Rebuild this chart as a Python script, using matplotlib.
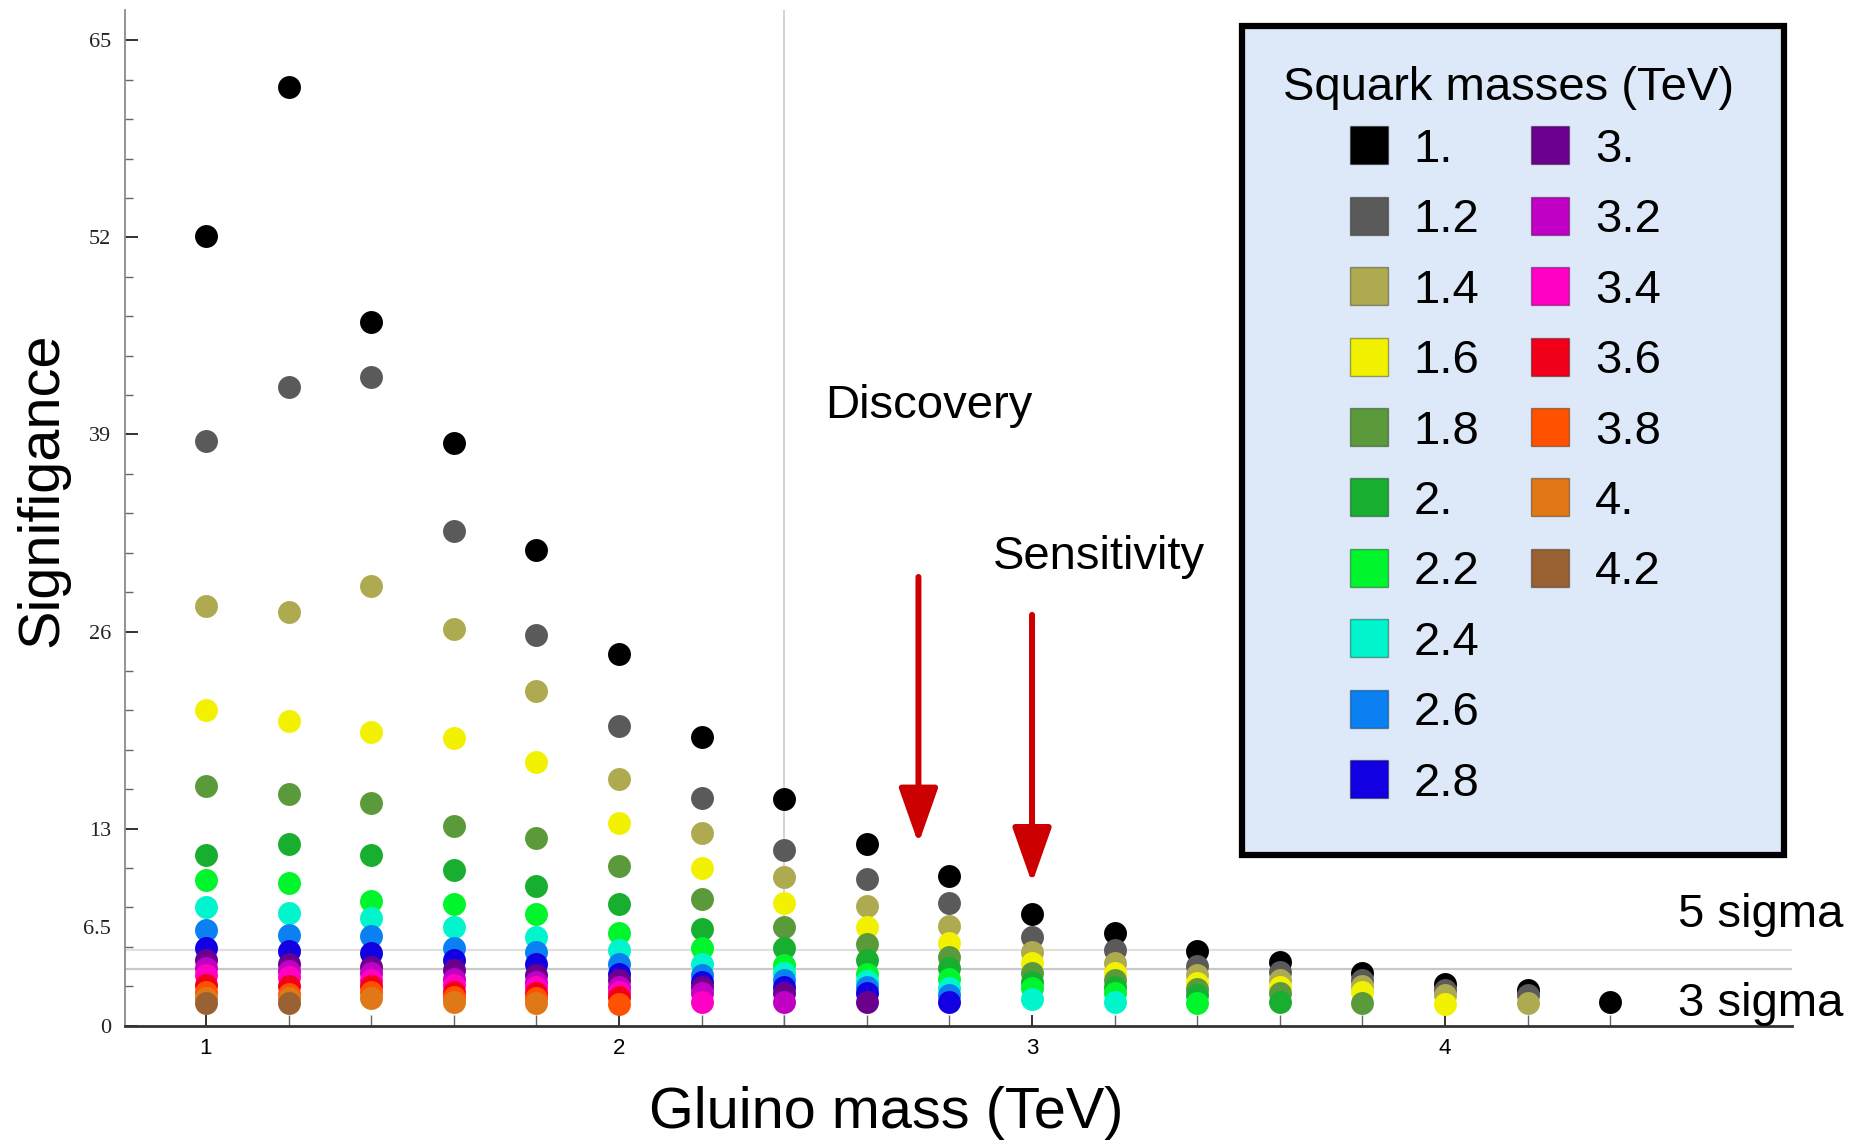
import matplotlib

matplotlib.use("Agg")
import matplotlib.pyplot as plt
import numpy as np
from matplotlib.lines import Line2D
from matplotlib.patches import Rectangle
from matplotlib.ticker import FixedLocator

plt.rcParams["font.family"] = ["Liberation Sans", "DejaVu Sans"]

# gluino mass grid (TeV); each squark series starts at 1.0 and runs as far as its values go
gluino = [1.0, 1.2, 1.4, 1.6, 1.8, 2.0, 2.2, 2.4, 2.6, 2.8, 3.0, 3.2, 3.4, 3.6, 3.8, 4.0, 4.2, 4.4]
squark_labels = ["1.", "1.2", "1.4", "1.6", "1.8", "2.", "2.2", "2.4", "2.6", "2.8",
                 "3.", "3.2", "3.4", "3.6", "3.8", "4.", "4.2"]
squark_colors = ["#000000", "#5a5a5a", "#aeaa50", "#f2f200", "#5b9a3b", "#18ae30",
                 "#00f52c", "#00f5cc", "#0a80f2", "#1200e2", "#6b008f", "#c000c4",
                 "#ff00c4", "#f2001a", "#ff5200", "#e07818", "#9a6232"]

sig_sq10 = [52.1, 61.9, 46.4, 38.45, 31.4, 24.55, 19.06, 14.95, 12.0, 9.87, 7.37, 6.1,
            4.95, 4.22, 3.45, 2.75, 2.35, 1.54]
sig_sq12 = [38.6, 42.1, 42.8, 32.6, 25.76, 19.8, 15.0, 11.6, 9.65, 8.1, 5.87, 5.0,
            3.94, 3.56, 3.0, 2.35, 2.02]
sig_sq14 = [27.7, 27.3, 29.0, 26.2, 22.1, 16.3, 12.7, 9.8, 7.9, 6.57, 4.88, 4.15,
            3.34, 3.0, 2.62, 2.02, 1.52]
sig_sq16 = [20.8, 20.1, 19.4, 19.0, 17.4, 13.4, 10.4, 8.1, 6.5, 5.47, 4.15, 3.5,
            2.84, 2.57, 2.25, 1.43]
sig_sq18 = [15.8, 15.3, 14.7, 13.2, 12.35, 10.5, 8.33, 6.5, 5.37, 4.55, 3.45, 3.0,
            2.4, 2.13, 1.52]
sig_sq20 = [11.25, 12.0, 11.25, 10.3, 9.2, 8.0, 6.36, 5.1, 4.33, 3.78, 2.9, 2.57, 2.02, 1.58]
sig_sq22 = [9.6, 9.4, 8.2, 8.0, 7.35, 6.13, 5.1, 4.0, 3.4, 3.06, 2.47, 2.13, 1.52]
sig_sq24 = [7.8, 7.4, 7.1, 6.5, 5.87, 5.0, 4.1, 3.45, 2.97, 2.47, 1.74, 1.58]
sig_sq26 = [6.3, 6.0, 5.9, 5.15, 4.88, 4.1, 3.34, 3.0, 2.57, 2.0]
sig_sq28 = [5.1, 4.95, 4.8, 4.33, 4.1, 3.4, 2.9, 2.57, 2.13, 1.58]
sig_sq30 = [4.3, 4.1, 3.9, 3.67, 3.35, 3.0, 2.57, 2.13, 1.58]
sig_sq32 = [3.8, 3.6, 3.45, 3.1, 2.9, 2.57, 2.13, 1.58]
sig_sq34 = [3.35, 3.2, 3.0, 2.68, 2.57, 2.25, 1.58]
sig_sq36 = [2.7, 2.6, 2.6, 2.25, 2.13, 1.9]
sig_sq38 = [2.25, 2.1, 2.2, 1.9, 1.8, 1.43]
sig_sq40 = [1.8, 1.8, 1.8, 1.58, 1.48]
sig_sq42 = [1.5, 1.5]

series = [sig_sq10, sig_sq12, sig_sq14, sig_sq16, sig_sq18, sig_sq20, sig_sq22, sig_sq24,
          sig_sq26, sig_sq28, sig_sq30, sig_sq32, sig_sq34, sig_sq36, sig_sq38, sig_sq40,
          sig_sq42]

fig = plt.figure(figsize=(18.69, 11.40), dpi=100)
ax = fig.add_axes([0.0669, 0.1003, 0.8919, 0.8909])

# guide lines: discovery reach and the 5 / 3 sigma levels
ax.axvline(2.4, color="#cccccc", linewidth=1.2, zorder=1)
ax.axhline(5.0, color="#e0e0e0", linewidth=1.6, zorder=1)
ax.axhline(3.75, color="#c8c8c8", linewidth=1.6, zorder=1)

for vals, color in zip(series, squark_colors):
    ax.plot(gluino[:len(vals)], vals, linestyle="none", marker="o", markersize=16.5,
            markerfacecolor=color, markeredgewidth=0, zorder=3, clip_on=False)

ax.set_xlim(0.804, 4.84)
ax.set_ylim(0, 67)
for side in ("top", "right"):
    ax.spines[side].set_visible(False)
ax.spines["left"].set_color("#8a8a8a")
ax.spines["left"].set_linewidth(1.3)
ax.spines["bottom"].set_color("#333333")
ax.spines["bottom"].set_linewidth(2.0)

ax.set_xticks([1, 2, 3, 4])
ax.xaxis.set_minor_locator(FixedLocator(np.arange(1.2, 4.45, 0.2)))
ax.tick_params(axis="x", which="major", direction="in", length=8, width=1.3,
               color="#222222", labelsize=16, pad=9)
ax.tick_params(axis="x", which="minor", direction="in", length=8, width=1.0, color="#666666")

ax.set_yticks([0, 6.5, 13, 26, 39, 52, 65])
ax.set_yticklabels(["0", "6.5", "13", "26", "39", "52", "65"], family="Liberation Serif")
ax.yaxis.set_minor_locator(FixedLocator([v for v in np.arange(2.6, 65, 2.6)
                                         if abs(v / 13 - round(v / 13)) > 1e-6]))
ax.tick_params(axis="y", which="major", direction="in", length=9, width=1.3,
               color="#222222", labelsize=16, pad=10, labelcolor="#222222")
ax.tick_params(axis="y", which="minor", direction="in", length=6, width=1.0, color="#666666")
ax.yaxis.get_major_ticks()[1].tick1line.set_visible(False)

fig.text(0.474, 0.0237, "Gluino mass (TeV)", fontsize=41.5, ha="center", va="center")
fig.text(0.0225, 0.570, "Signifigance", fontsize=41.5, rotation=90, ha="center", va="center")

# annotations
ax.text(2.50, 40.9, "Discovery", fontsize=34, ha="left", va="center")
ax.text(2.905, 30.9, "Sensitivity", fontsize=34, ha="left", va="center")
ax.text(4.564, 7.3, "5 sigma", fontsize=34, ha="left", va="center", clip_on=False)
ax.text(4.564, 1.4, "3 sigma", fontsize=34, ha="left", va="center", clip_on=False)
arrow_style = "-|>,head_width=1.2,head_length=3.4"
ax.annotate("", xy=(2.725, 12.0), xytext=(2.725, 29.6),
            arrowprops=dict(arrowstyle=arrow_style, color="#cc0000", lw=4.3,
                            shrinkA=0, shrinkB=0))
ax.annotate("", xy=(3.0, 9.4), xytext=(3.0, 27.1),
            arrowprops=dict(arrowstyle=arrow_style, color="#cc0000", lw=4.3,
                            shrinkA=0, shrinkB=0))

# legend panel: box, title and entries placed separately to match the original
ax.add_patch(Rectangle((0.670, 0.168), 0.325, 0.816, transform=ax.transAxes,
                       facecolor="#dde9f8", edgecolor="black", linewidth=4.5,
                       zorder=5, clip_on=False))
ax.text(0.8302, 0.9230, "Squark masses (TeV)", transform=ax.transAxes, fontsize=34,
        ha="center", va="center", zorder=7)
handles = [Line2D([], [], linestyle="none", marker="s", markersize=27, markerfacecolor=c,
                  markeredgecolor=(0, 0, 0, 0.35), markeredgewidth=1.0)
           for c in squark_colors]
labels = list(squark_labels)
handles += [Line2D([], [], linestyle="none")] * 3
labels += [""] * 3
leg = ax.legend(handles, labels, ncol=2, frameon=False, loc="center left",
                bbox_to_anchor=(0.7319, 0.5503), borderpad=0, borderaxespad=0,
                fontsize=34, handlelength=1.0, handletextpad=0.45,
                columnspacing=1.0, labelspacing=0.56)
leg.set_zorder(6)

fig.savefig("out.png", dpi=100)
